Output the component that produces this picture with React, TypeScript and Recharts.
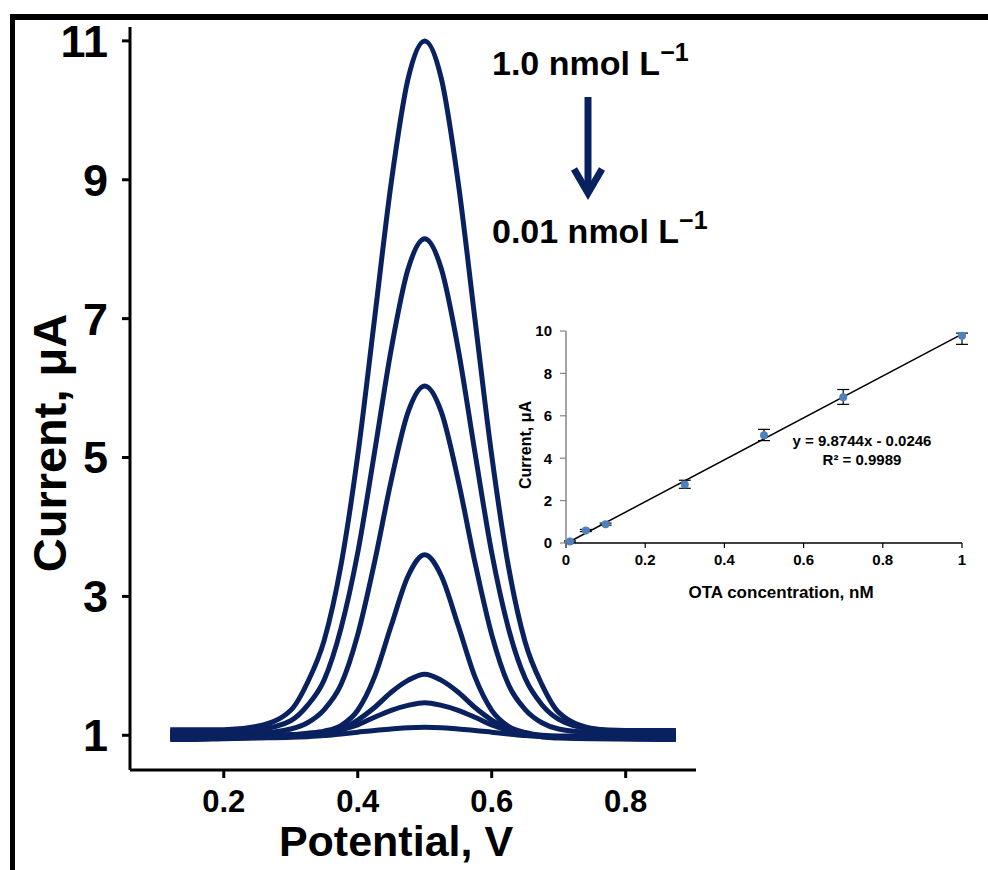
import React from 'react';
import {
  LineChart, Line, XAxis, YAxis,
  ScatterChart, Scatter, ErrorBar,
} from 'recharts';

// Potential axis (V) shared by all DPV curves
const potential = [0.12, 0.15, 0.2, 0.25, 0.3, 0.325, 0.35, 0.375, 0.4, 0.425, 0.45, 0.475, 0.5, 0.525, 0.55, 0.575, 0.6, 0.625, 0.65, 0.675, 0.7, 0.75, 0.8, 0.85, 0.875];

// Current (uA), one array per OTA concentration, highest first
const cur100 = [1.08, 1.08, 1.08, 1.13, 1.36, 1.76, 2.37, 3.45, 5.03, 6.99, 8.96, 10.45, 11.0, 10.45, 8.96, 6.99, 5.03, 3.43, 2.34, 1.73, 1.33, 1.1, 1.05, 1.05, 1.05];
const cur070 = [1.05, 1.05, 1.05, 1.08, 1.21, 1.43, 1.8, 2.54, 3.63, 5.07, 6.56, 7.71, 8.15, 7.71, 6.56, 5.07, 3.63, 2.54, 1.82, 1.44, 1.23, 1.09, 1.07, 1.07, 1.07];
const cur050 = [1.02, 1.02, 1.02, 1.03, 1.09, 1.18, 1.37, 1.73, 2.45, 3.49, 4.67, 5.65, 6.03, 5.65, 4.67, 3.49, 2.45, 1.73, 1.37, 1.18, 1.09, 1.04, 1.03, 1.03, 1.03];
const cur030 = [1.0, 1.0, 1.0, 1.0, 1.01, 1.03, 1.06, 1.14, 1.36, 1.84, 2.58, 3.29, 3.6, 3.29, 2.58, 1.84, 1.36, 1.13, 1.04, 1.0, 0.99, 0.99, 0.99, 0.99, 0.99];
const cur010 = [0.98, 0.98, 0.98, 0.98, 0.99, 1.0, 1.03, 1.09, 1.22, 1.4, 1.62, 1.79, 1.88, 1.79, 1.62, 1.4, 1.22, 1.09, 1.02, 0.99, 0.98, 0.97, 0.97, 0.97, 0.97];
const cur005 = [0.96, 0.96, 0.96, 0.97, 0.98, 1.0, 1.03, 1.08, 1.15, 1.26, 1.36, 1.43, 1.47, 1.43, 1.36, 1.26, 1.15, 1.07, 1.01, 0.98, 0.96, 0.95, 0.95, 0.95, 0.95];
const cur001 = [0.94, 0.94, 0.95, 0.96, 0.97, 0.98, 0.995, 1.02, 1.045, 1.07, 1.09, 1.11, 1.115, 1.11, 1.09, 1.07, 1.045, 1.02, 0.995, 0.98, 0.97, 0.955, 0.945, 0.94, 0.94];

const curveKeys = ['c100', 'c070', 'c050', 'c030', 'c010', 'c005', 'c001'];
const curves = [cur100, cur070, cur050, cur030, cur010, cur005, cur001];

const mainXTicks = [0.2, 0.4, 0.6, 0.8];
const mainYTicks = [1, 3, 5, 7, 9, 11];

// Calibration inset
const otaConc = [0.01, 0.05, 0.1, 0.3, 0.5, 0.7, 1.0];
const otaCurrent = [0.07, 0.59, 0.89, 2.76, 5.08, 6.87, 9.78];
const otaErrLow = [0.03, 0.05, 0.05, 0.18, 0.25, 0.33, 0.41];
const otaErrHigh = [0.03, 0.05, 0.05, 0.2, 0.28, 0.37, 0.12];
const trendX = [0.01, 1.0];
const trendY = [0.07, 9.85];
const insetXTicks = [0, 0.2, 0.4, 0.6, 0.8, 1];
const insetYTicks = [0, 2, 4, 6, 8, 10];

const rows = potential.map((v, i) => {
  const row: any = { v };
  curveKeys.forEach((k, j) => { row[k] = curves[j][i]; });
  return row;
});
const points = otaConc.map((x, i) => ({ x, y: otaCurrent[i], err: [otaErrLow[i], otaErrHigh[i]] }));
const trend = trendX.map((x, i) => ({ x, y: trendY[i] }));

const NAVY = '#0a2160';
const FONT = 'Liberation Sans, Arial, sans-serif';

const App: React.FC = () => {
  return (
    <div style={{ position: 'absolute', left: 0, top: 0, width: 988, height: 870, background: '#fff', fontFamily: FONT }}>
      {/* partial frame, only top and left edges show */}
      <div style={{ position: 'absolute', left: 10, top: 14, width: 978, height: 856, borderTop: '6px solid #000', borderLeft: '5px solid #000', boxSizing: 'border-box' }} />

      <div style={{ position: 'absolute', left: 0, top: 0 }}>
        <LineChart width={988} height={870} data={rows} margin={{ top: 27, right: 292, bottom: 40, left: 70 }}>
          <XAxis
            type="number"
            dataKey="v"
            domain={[0.06, 0.905]}
            ticks={mainXTicks}
            tickFormatter={(t: number) => t.toFixed(1)}
            height={60}
            axisLine={{ stroke: '#000', strokeWidth: 3 }}
            tickLine={{ stroke: '#000', strokeWidth: 3 }}
            tickSize={8}
            tickMargin={12}
            tick={{ fontSize: 31, fontWeight: 700, fill: '#000', fontFamily: FONT }}
          />
          <YAxis
            type="number"
            domain={[0.5, 11.2]}
            ticks={mainYTicks}
            width={60}
            axisLine={{ stroke: '#000', strokeWidth: 3 }}
            tickLine={{ stroke: '#000', strokeWidth: 3 }}
            tickSize={8}
            tickMargin={14}
            tick={{ fontSize: 45, fontWeight: 700, fill: '#000', fontFamily: FONT }}
          />
          {curveKeys.map((k) => (
            <Line key={k} type="monotone" dataKey={k} stroke={NAVY} strokeWidth={5} dot={false} isAnimationActive={false} />
          ))}
        </LineChart>
      </div>

      <div style={{ position: 'absolute', left: 480, top: 310 }}>
        <ScatterChart width={500} height={300} margin={{ top: 21, right: 18, bottom: 37, left: 56 }}>
          <XAxis
            type="number"
            dataKey="x"
            domain={[0, 1]}
            ticks={insetXTicks}
            height={30}
            axisLine={{ stroke: '#000', strokeWidth: 1.5 }}
            tickLine={{ stroke: '#000', strokeWidth: 1.2 }}
            tickSize={5}
            tickMargin={6}
            tick={{ fontSize: 15, fontWeight: 700, fill: '#000', fontFamily: FONT }}
          />
          <YAxis
            type="number"
            dataKey="y"
            domain={[0, 10]}
            ticks={insetYTicks}
            width={30}
            axisLine={{ stroke: '#868686', strokeWidth: 1.5 }}
            tickLine={{ stroke: '#868686', strokeWidth: 1.2 }}
            tickSize={6}
            tickMargin={8}
            tick={{ fontSize: 15, fontWeight: 700, fill: '#000', fontFamily: FONT }}
          />
          <Scatter data={trend} line={{ stroke: '#000', strokeWidth: 1.5 }} shape={() => <g />} isAnimationActive={false} />
          <Scatter data={points} fill="#4f81bd" isAnimationActive={false} shape={(p: any) => <circle cx={p.cx} cy={p.cy} r={4} fill="#4f81bd" />}>
            <ErrorBar dataKey="err" direction="y" width={6} stroke="#000" strokeWidth={1.2} />
          </Scatter>
        </ScatterChart>
      </div>

      <svg width={988} height={870} style={{ position: 'absolute', left: 0, top: 0, pointerEvents: 'none' }} fontFamily={FONT}>
        <text transform="translate(66,443) rotate(-90)" textAnchor="middle" fontSize={47} fontWeight={700} fill="#000">Current, μA</text>
        <text x={396} y={856} textAnchor="middle" fontSize={43} fontWeight={700} fill="#000">Potential, V</text>

        <text x={492} y={75} fontSize={34} fontWeight={700} fill="#000">
          1.0 nmol L<tspan fontSize={25} dy={-14}>−1</tspan>
        </text>
        <line x1={588} y1={97} x2={588} y2={190} stroke={NAVY} strokeWidth={7} />
        <polyline points="574,169 588,193 602,169" fill="none" stroke={NAVY} strokeWidth={7} strokeLinejoin="miter" />
        <text x={492} y={243} fontSize={34} fontWeight={700} fill="#000">
          0.01 nmol L<tspan fontSize={25} dy={-14}>−1</tspan>
        </text>

        <text transform="translate(531,445) rotate(-90)" textAnchor="middle" fontSize={16} fontWeight={700} fill="#000">Current, μA</text>
        <text x={781} y={598} textAnchor="middle" fontSize={17} fontWeight={700} fill="#000">OTA concentration, nM</text>
        <text x={862} y={446} textAnchor="middle" fontSize={15} fontWeight={700} fill="#000">y = 9.8744x - 0.0246</text>
        <text x={862} y={465} textAnchor="middle" fontSize={15} fontWeight={700} fill="#000">R² = 0.9989</text>
      </svg>
    </div>
  );
};

export default App;
